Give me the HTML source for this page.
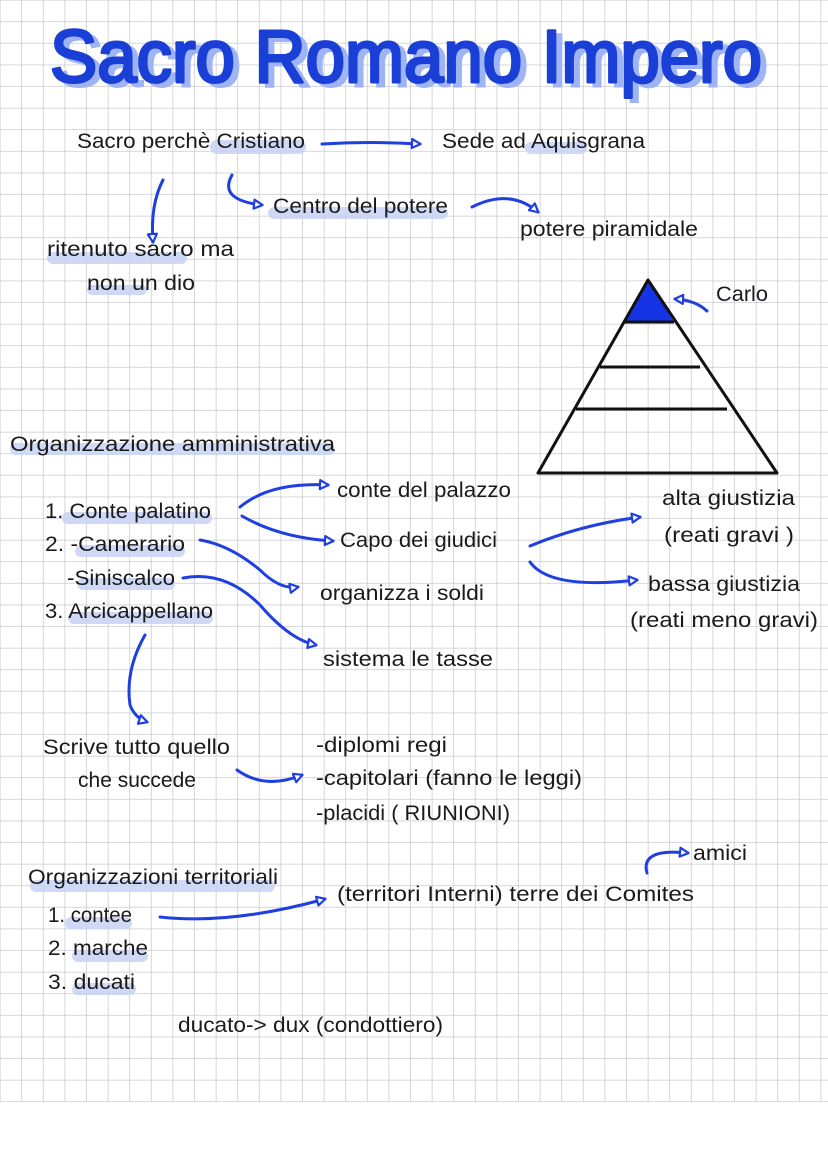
<!DOCTYPE html>
<html><head><meta charset="utf-8"><style>
html,body{margin:0;padding:0;background:#fff;width:828px;height:1170px;overflow:hidden;}
svg{display:block;}
text{font-family:"Liberation Sans",sans-serif;fill:#1a1a1a;}
</style></head><body>
<svg width="828" height="1170" viewBox="0 0 828 1170" xmlns="http://www.w3.org/2000/svg">
<defs>
<pattern id="g" width="21.6" height="21.6" patternUnits="userSpaceOnUse" x="0.5" y="0.5">
<path d="M21.6 0V21.6M0 21.6H21.6" stroke="#c8c9cf" stroke-width="1.5" fill="none"/>
</pattern>
<marker id="a" viewBox="0 0 12 12" refX="10" refY="6" markerWidth="12" markerHeight="12" markerUnits="userSpaceOnUse" orient="auto">
<path d="M2 1.5L10.5 6L2 10.5Z" fill="#fff" stroke="#1f3fe0" stroke-width="2.2" stroke-linejoin="round"/>
</marker>
</defs>
<rect width="828" height="1102" fill="url(#g)"/>

<!-- highlights -->
<g fill="#c7d3f5" opacity="0.85">
<rect x="210" y="140" width="96" height="14" rx="7"/>
<rect x="525" y="142" width="62" height="12" rx="6"/>
<rect x="268" y="207" width="180" height="12" rx="6"/>
<rect x="47" y="252" width="140" height="12" rx="6"/>
<rect x="87" y="285" width="60" height="10" rx="5"/>
<rect x="10" y="443" width="325" height="12" rx="6"/>
<rect x="62" y="512" width="150" height="12" rx="6"/>
<rect x="75" y="545" width="110" height="12" rx="6"/>
<rect x="77" y="578" width="98" height="12" rx="6"/>
<rect x="68" y="612" width="145" height="12" rx="6"/>
<rect x="30" y="880" width="245" height="12" rx="6"/>
<rect x="65" y="917" width="67" height="12" rx="6"/>
<rect x="72" y="950" width="76" height="12" rx="6"/>
<rect x="72" y="983" width="64" height="12" rx="6"/>
</g>

<!-- title -->
<text x="56" y="86" font-size="74" textLength="712" lengthAdjust="spacingAndGlyphs" style="fill:#9fb4f5;stroke:#9fb4f5;stroke-width:3">Sacro Romano Impero</text>
<text x="50" y="82" font-size="74" textLength="712" lengthAdjust="spacingAndGlyphs" style="fill:#1a3fd6;stroke:#1a3fd6;stroke-width:3;stroke-linejoin:round">Sacro Romano Impero</text>

<!-- pyramid -->
<polygon points="648,280 625,322 674,322" fill="#1534e6"/>
<polygon points="648,280 538,473 777,473" fill="none" stroke="#111" stroke-width="3" stroke-linejoin="round"/>
<g stroke="#111" stroke-width="3">
<line x1="625" y1="322" x2="674" y2="322"/><line x1="600" y1="367" x2="700" y2="367"/><line x1="576" y1="409" x2="727" y2="409"/>
</g>

<!-- arrows -->
<g fill="none" stroke="#1f3fe0" stroke-width="3" stroke-linecap="round" marker-end="url(#a)">
<path d="M322 144 Q370 141 420 144"/>
<path d="M163 180 Q150 205 153 242"/>
<path d="M232 175 Q218 200 262 205"/>
<path d="M472 207 Q510 188 538 212"/>
<path d="M707 311 Q695 300 675 299"/>
<path d="M240 507 Q270 482 328 485"/>
<path d="M242 516 Q280 538 333 541"/>
<path d="M200 540 Q230 545 260 570 Q280 590 298 587"/>
<path d="M183 578 Q225 570 260 605 Q290 640 316 645"/>
<path d="M530 546 Q580 525 640 517"/>
<path d="M530 562 Q550 590 637 580"/>
<path d="M145 635 Q125 670 130 705 Q135 718 147 722"/>
<path d="M237 770 Q265 790 302 775"/>
<path d="M160 917 Q230 925 325 899"/>
<path d="M647 873 Q640 848 688 853"/>
</g>

<!-- texts -->
<g font-size="21">
<text x="77" y="148" textLength="228" lengthAdjust="spacingAndGlyphs">Sacro perchè Cristiano</text>
<text x="442" y="148" textLength="203" lengthAdjust="spacingAndGlyphs">Sede ad Aquisgrana</text>
<text x="273" y="213" textLength="175" lengthAdjust="spacingAndGlyphs">Centro del potere</text>
<text x="520" y="236" textLength="178" lengthAdjust="spacingAndGlyphs">potere piramidale</text>
<text x="47" y="256" textLength="187" lengthAdjust="spacingAndGlyphs">ritenuto sacro ma</text>
<text x="87" y="290" textLength="108" lengthAdjust="spacingAndGlyphs">non un dio</text>
<text x="716" y="301" textLength="52" lengthAdjust="spacingAndGlyphs">Carlo</text>
<text x="10" y="451" textLength="325" lengthAdjust="spacingAndGlyphs">Organizzazione amministrativa</text>
<text x="45" y="518" textLength="166" lengthAdjust="spacingAndGlyphs">1. Conte palatino</text>
<text x="45" y="551" textLength="140" lengthAdjust="spacingAndGlyphs">2. -Camerario</text>
<text x="67" y="585" textLength="108" lengthAdjust="spacingAndGlyphs">-Siniscalco</text>
<text x="45" y="618" textLength="168" lengthAdjust="spacingAndGlyphs">3. Arcicappellano</text>
<text x="337" y="497" textLength="174" lengthAdjust="spacingAndGlyphs">conte del palazzo</text>
<text x="340" y="547" textLength="157" lengthAdjust="spacingAndGlyphs">Capo dei giudici</text>
<text x="320" y="600" textLength="164" lengthAdjust="spacingAndGlyphs">organizza i soldi</text>
<text x="323" y="666" textLength="170" lengthAdjust="spacingAndGlyphs">sistema le tasse</text>
<text x="662" y="505" textLength="133" lengthAdjust="spacingAndGlyphs">alta giustizia</text>
<text x="664" y="542" textLength="130" lengthAdjust="spacingAndGlyphs">(reati gravi )</text>
<text x="648" y="591" textLength="152" lengthAdjust="spacingAndGlyphs">bassa giustizia</text>
<text x="630" y="627" textLength="188" lengthAdjust="spacingAndGlyphs">(reati meno gravi)</text>
<text x="43" y="754" textLength="187" lengthAdjust="spacingAndGlyphs">Scrive tutto quello</text>
<text x="78" y="787" textLength="118" lengthAdjust="spacingAndGlyphs">che succede</text>
<text x="316" y="752" textLength="131" lengthAdjust="spacingAndGlyphs">-diplomi regi</text>
<text x="316" y="785" textLength="266" lengthAdjust="spacingAndGlyphs">-capitolari (fanno le leggi)</text>
<text x="316" y="820" textLength="194" lengthAdjust="spacingAndGlyphs">-placidi ( RIUNIONI)</text>
<text x="693" y="860" textLength="54" lengthAdjust="spacingAndGlyphs">amici</text>
<text x="28" y="884" textLength="250" lengthAdjust="spacingAndGlyphs">Organizzazioni territoriali</text>
<text x="337" y="901" textLength="357" lengthAdjust="spacingAndGlyphs">(territori Interni) terre dei Comites</text>
<text x="48" y="922" textLength="84" lengthAdjust="spacingAndGlyphs">1. contee</text>
<text x="48" y="955" textLength="100" lengthAdjust="spacingAndGlyphs">2. marche</text>
<text x="48" y="989" textLength="87" lengthAdjust="spacingAndGlyphs">3. ducati</text>
<text x="178" y="1032" textLength="265" lengthAdjust="spacingAndGlyphs">ducato-&gt; dux (condottiero)</text>
</g>
</svg>
</body></html>
